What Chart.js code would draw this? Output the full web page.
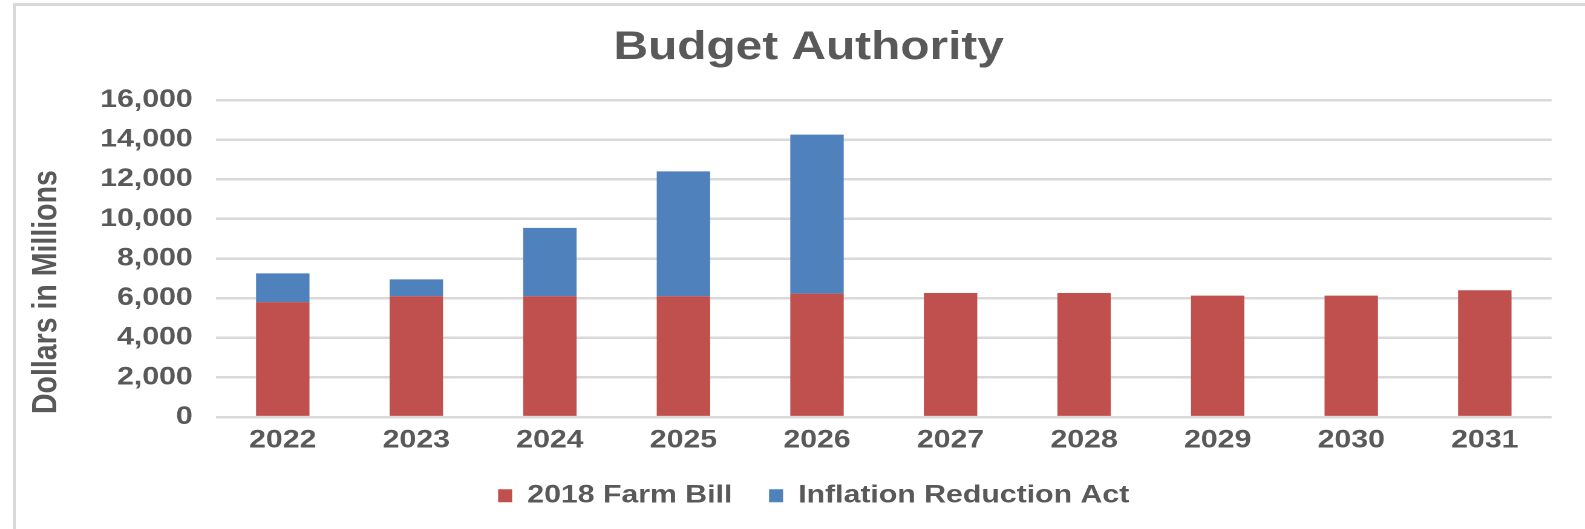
<!DOCTYPE html>
<html>
<head>
<meta charset="utf-8">
<title>Budget Authority</title>
<script src="https://cdn.jsdelivr.net/npm/chart.js@4.4.1/dist/chart.umd.min.js"></script>
<style>
    html, body { margin: 0; padding: 0; background: #fff; overflow: hidden; }
    #frame {
        position: absolute; left: 13px; top: 3px;
        width: 1600px; height: 600px;
        border: 3px solid #d9d9d9;
    }
    /* the original picture is stretched sideways, so the chart is laid out narrower and scaled */
    #wrap {
        position: absolute; left: 0; top: 0;
        width: 1310px; height: 529px;
        transform: scaleX(1.2099);
        transform-origin: 0 0;
    }
</style>
</head>
<body>
<div id="frame"></div>
<div id="wrap"><canvas id="budgetChart"></canvas></div>
<script>
var years = ['2022', '2023', '2024', '2025', '2026', '2027', '2028', '2029', '2030', '2031'];
var farmBill = [5800, 6100, 6100, 6100, 6230, 6260, 6260, 6130, 6130, 6400];
var inflationAct = [1450, 850, 3450, 6300, 8020, 0, 0, 0, 0, 0];
var yTicks = [0, 2000, 4000, 6000, 8000, 10000, 12000, 14000, 16000];

var textColor = '#595959';
var fontFamily = '"Liberation Sans", Arial, Helvetica, sans-serif';

// y axis title drawn by hand so it can sit a little lower than centre, like the original
var yTitlePlugin = {
    id: 'yTitle',
    afterDraw: function (chart) {
        var ctx = chart.ctx;
        var area = chart.chartArea;
        ctx.save();
        ctx.translate(38.6, area.bottom - 125);
        ctx.rotate(-Math.PI / 2);
        ctx.fillStyle = textColor;
        ctx.font = 'bold 28.5px ' + fontFamily;
        ctx.textAlign = 'center';
        ctx.textBaseline = 'middle';
        ctx.fillText('Dollars in Millions', 0, 0);
        ctx.restore();
    }
};

// title and legend sit a bit right of the canvas centre in the original
var nudgePlugin = {
    id: 'nudge',
    afterLayout: function (chart) {
        var t = chart.titleBlock;
        t.left += 27.2;
        t.right += 27.2;
        var l = chart.legend;
        l.left += 31.3;
        l.right += 31.3;
        l.top -= 10.8;
        l.bottom -= 10.8;
    }
};

window.onload = function () {
    var ctx = document.getElementById('budgetChart').getContext('2d');
    new Chart(ctx, {
        type: 'bar',
        data: {
            labels: years,
            datasets: [{
                label: '2018 Farm Bill',
                data: farmBill,
                backgroundColor: '#C0504D',
                borderWidth: 0,
                barPercentage: 0.4,
                categoryPercentage: 1.0
            }, {
                label: 'Inflation Reduction Act',
                data: inflationAct,
                backgroundColor: '#4F81BD',
                borderWidth: 0,
                barPercentage: 0.4,
                categoryPercentage: 1.0
            }]
        },
        options: {
            responsive: true,
            maintainAspectRatio: false,
            animation: false,
            devicePixelRatio: 2,
            layout: {
                padding: { top: 0, right: 27.6, bottom: 0, left: 0 }
            },
            plugins: {
                title: {
                    display: true,
                    text: 'Budget Authority',
                    color: textColor,
                    font: { family: fontFamily, size: 39.5, weight: 'bold' },
                    padding: { top: 24.3, bottom: 28.3 }
                },
                legend: {
                    position: 'bottom',
                    labels: {
                        color: textColor,
                        font: { family: fontFamily, size: 25, weight: 'bold' },
                        boxWidth: 11.6,
                        boxHeight: 13,
                        padding: 30.3
                    }
                },
                tooltip: { enabled: false }
            },
            scales: {
                x: {
                    stacked: true,
                    grid: { display: false, drawTicks: false },
                    border: { display: false },
                    ticks: {
                        color: textColor,
                        font: { family: fontFamily, size: 25, weight: 'bold' },
                        padding: 8.3,
                        maxRotation: 0
                    }
                },
                y: {
                    stacked: true,
                    min: yTicks[0],
                    max: yTicks[yTicks.length - 1],
                    grid: { color: '#d9d9d9', lineWidth: 2.5, drawTicks: false },
                    border: { display: false },
                    ticks: {
                        stepSize: yTicks[1] - yTicks[0],
                        color: textColor,
                        font: { family: fontFamily, size: 25, weight: 'bold' },
                        padding: 19.2,
                        callback: function (value) {
                            return value.toLocaleString('en-US');
                        }
                    },
                    afterFit: function (scale) {
                        scale.width = 178.5;
                    }
                }
            }
        },
        plugins: [yTitlePlugin, nudgePlugin]
    });
};
</script>
</body>
</html>
